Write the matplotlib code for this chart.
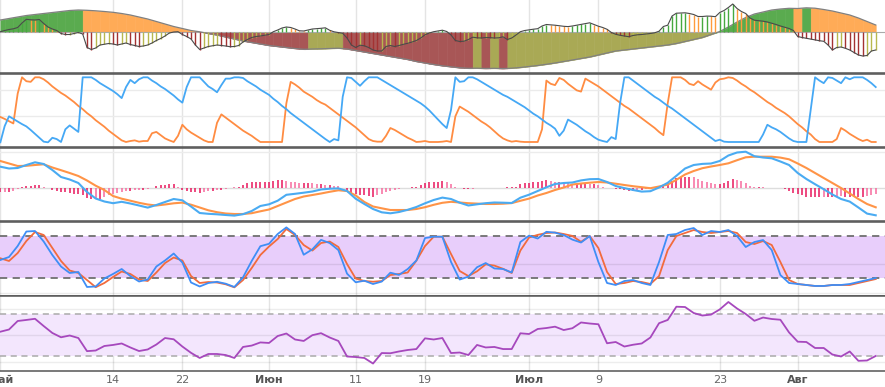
import numpy as np
import matplotlib
matplotlib.use("Agg")
import matplotlib.pyplot as plt

# ---------------- data ----------------
tick_days = [0, 13, 21, 31, 41, 49, 61, 69, 83, 92]
tick_labels = ["Май", "14", "22", "Июн", "11", "19", "Июл", "9", "23", "Авг"]
month_labels = ["Май", "Июн", "Июл", "Авг"]

# top panel: slow oscillator (daily) and fast oscillator (12h)
slow = [12, 13.5, 15, 16.5, 17.5, 18.5, 19.5, 20.5, 21.5, 22,
        21.7, 21.2, 20.5, 19.7, 18.5, 17, 15, 13, 10.5, 8,
        5.5, 3.5, 1.5, 0.2, -1.5, -3, -5, -7, -9, -10.5,
        -12, -13.5, -14.5, -15.5, -16.5, -17.3, -17.0, -16.8, -16.5, -16.2,
        -17, -18.5, -20, -21.5, -23, -24.5, -26, -27.5, -29.5, -31,
        -32.5, -33.8, -34.8, -35.8, -36.3, -36.2, -36.5, -36.3, -36.6, -36.2,
        -35.5, -34.5, -33.5, -32.3, -31, -29.5, -28, -26.5, -25, -23,
        -21, -19, -18, -17, -16, -15, -14, -13, -11.5, -9.5,
        -7.5, -5.5, -2.5, 0.5, 5, 10, 14.5, 18, 20, 22,
        23, 23.7, 23.5, 24.2, 23.8, 22.5, 21, 19, 17, 14,
        10.5, 7]
fast = [0.3, 1.5, 2.5, 3.2, 4.5, 9, 12.7, 12.2, 12, 12.5,
        8.5, 5, 3, 1.5, -1.5, -2.5, -2.5, -1.5, -0.5, -2,
        -15.5, -17.5, -16, -13, -12.3, -11.5, -12, -13, -12, -11,
        -12.5, -13.5, -14.5, -14, -13, -11, -8.5, -6.5, -4, -1,
        0, 0.3, -2.5, -4.5, -7, -13, -17.5, -16, -14.5, -13.8,
        -13, -13.5, -14, -14.7, -14.5, -13.5, -10, -7.5, -5.5, -4.5,
        -4, -3.3, -2.5, 0.3, 2, 4, 5, 4.5, 3, 1.2,
        1, 2, 3, 3.3, 3.7, 4.2, 1.7, 0.2, -0.5, -1.3,
        -6, -13, -15.5, -13.2, -13.8, -15.5, -18, -19, -19, -14.5,
        -13.5, -14.5, -13.5, -12.3, -11.3, -10, -8.5, -6, -2.8, -1,
        0.3, 1, 1.8, 0.5, -3, -8.5, -9.5, -9.2, -7.5, -5.2,
        -5.8, -6, -5.5, -5.6, -6, -5.8, -4.8, -7.5, -6, -3,
        0.3, 1.5, 2.2, 2.8, 3.3, 6, 7.5, 7.2, 6.8, 6.2,
        5.7, 5.4, 6, 6.8, 7.7, 8.5, 9.2, 7.5, 5.8, 4.5,
        2.7, -0.5, -2.3, -3.3, -4, -4.7, -3.5, -2.8, -2.5, -2,
        -1.5, -0.8, 0.8, 5.5, 6.8, 16, 18.8, 19, 19.2, 18.5,
        17.5, 15.5, 15.5, 15.9, 15.8, 15.3, 19.5, 21.5, 24.5, 28,
        23.5, 20.5, 18.5, 14, 11.8, 11.3, 10.8, 10, 8.8, 7.5,
        6, 4.8, 3.5, 1.5, -4.5, -5.5, -6.3, -7, -8, -8.7,
        -9.3, -13, -18, -15.5, -15, -16.3, -18, -20.5, -23, -24,
        -23.5, -19, -18]

# aroon (12h)
aroon_up = [0, 25, 40, 36, 32, 28, 24.5, 19, 13, 7,
            1, 0, 7, 5, 0.5, 20, 26, 21, 16, 100,
            100, 100, 96, 91, 87, 83, 79, 74, 68, 85,
            96, 91, 97, 100, 100, 95, 91, 86, 82, 77,
            72, 66, 61, 85, 100, 100, 100, 93, 86, 82,
            77, 88, 98, 98, 100, 100, 99, 94, 90, 86,
            81, 77, 73, 67, 62, 56, 51, 45, 40, 35,
            30, 25, 20, 15, 10, 5, 0.5, 5, 3, 70,
            100, 99, 93, 87, 94, 100, 100, 100, 96, 92,
            88, 84, 80, 76, 72, 68, 64, 60, 55, 49,
            42, 35, 28, 22, 50, 100, 93, 94, 100, 100,
            97, 93, 89, 85, 81, 77, 73, 70, 66, 62,
            58, 54, 49, 44, 40, 35, 30, 26, 21, 10,
            18, 35, 31, 27, 22, 17, 13, 8, 4, 2,
            0.5, 8, 5, 60, 100, 100, 95, 90, 85, 80,
            75, 70, 66, 61, 56, 52, 47, 42, 37, 32,
            27, 22, 17, 12, 7, 2, 4, 1, 0.5, 0.5,
            0.5, 0.5, 0.5, 0.5, 0.5, 0.5, 12, 27, 23, 20,
            16, 11, 6, 2, 0.5, 0.5, 0.5, 50, 100, 95,
            91, 100, 99, 95, 91, 100, 97, 100, 100, 100,
            96, 91, 85]
aroon_down = [39, 36, 32.5, 29, 75, 100, 94, 93, 100, 100,
              97, 92, 86, 81, 76, 72, 67, 62, 56, 51,
              45, 40, 34, 29, 24, 18, 13, 8, 3, 0.5,
              2, 3, 1, 2, 2, 14, 16, 11, 6, 3,
              0.5, 10, 27, 20, 15, 11, 7, 3, 0.5, 0.5,
              30, 43, 38, 33, 28, 23, 18, 14, 10, 5,
              0.5, 0.5, 0.5, 0.5, 0.5, 0.5, 60, 93, 89, 84,
              78, 74, 70, 65, 61, 58, 53, 48, 43, 38,
              33, 28, 23, 17, 11, 5, 2, 1, 1, 10,
              22, 19, 15, 11, 7, 4, 0.5, 1, 2, 0.5,
              0.5, 0.5, 1, 2, 0.5, 40, 55, 51, 47, 42,
              37, 32, 28, 23, 17, 11, 6, 3, 1, 2,
              1, 0.5, 0.5, 0.5, 0.5, 20, 95, 90, 88, 99,
              96, 90, 85, 80, 78, 98, 94, 90, 86, 81,
              76, 71, 66, 61, 56, 52, 47, 42, 37, 32,
              27, 22, 16, 11, 60, 100, 100, 100, 96, 90,
              88, 94, 89, 85, 81, 92, 97, 98, 100, 99,
              95, 90, 86, 81, 77, 72, 67, 62, 58, 53,
              49, 45, 40, 34, 28, 23, 17, 12, 5, 0.5,
              0.5, 0.5, 0.5, 5, 22, 18, 13, 9, 5, 2,
              4, 0.5, 0.5]

# macd (daily lines, 12h histogram)
macd = [21, 19.2, 19.7, 22.7, 25.4, 23.7, 17.7, 10.7, 8.2, 4.7,
        -4.3, -10.8, -13.8, -15.5, -14.1, -15.8, -17.8, -19.9, -17.3, -14.3,
        -11.3, -12.6, -18.8, -25.3, -26.1, -26.6, -27.3, -27.9, -26.5, -23.3,
        -18.3, -16.6, -13, -7.1, -6.1, -5, -3.8, -1.8, -1, -0.7,
        -3.3, -11, -16.3, -21.3, -24.6, -25.6, -24.3, -22.1, -19.3, -15.6,
        -12.3, -9.9, -11.3, -15, -17.8, -16.6, -15.5, -14.8, -15, -15.3,
        -10, -7, -3.3, 0.4, 3.7, 4.7, 5.2, 7.3, 8.5, 8.7,
        5.7, 1.7, -0.4, -2.3, -3.9, -3.5, 0.2, 4.9, 11.9, 19.2,
        22.7, 23.8, 24.2, 26.7, 32.2, 35.2, 36, 31.5, 30.2, 29.4,
        26.2, 22.7, 14.7, 8.7, 3.5, -1.5, -6.8, -11.3, -13.9, -19.8,
        -25.9, -27.6]
signal = [26.7, 24.2, 21.7, 21.9, 22.7, 23.4, 20.2, 17.5, 14.7, 11.7,
          7.2, 2, -2.3, -8.3, -11, -13, -15.1, -16.8, -17.8, -16.8,
          -15.6, -14.9, -17, -19.8, -22.6, -24.5, -25.8, -26.3, -26.3, -25.5,
          -23.6, -21.8, -18.3, -14.8, -11.3, -8.8, -7.3, -5.8, -4.1, -2.6,
          -3.3, -7.8, -14.3, -18.8, -20.6, -22.3, -22.3, -22.3, -21.3, -19.5,
          -17.1, -15.1, -14.1, -14.8, -15.5, -15.9, -16.3, -16.3, -16, -15.4,
          -13.1, -10.9, -7.8, -5.3, -2.3, 0.2, 3.2, 4.2, 5, 5.7,
          5.2, 4, 2.7, 1.5, 0.5, -0.5, 1.2, 3.1, 7.9, 13.2,
          16.7, 19.5, 21.2, 22.7, 24.4, 27.5, 30.4, 31, 31, 31,
          30.1, 28.4, 24.2, 19.7, 14.7, 9.7, 4.7, -0.3, -5.8, -11.3,
          -16.3, -19.6]
hist = [-4.5, -4, -4, -3.3, -1, 1, 1.5, 2, 2.7, 2.7,
        1, -0.5, -2.3, -3.3, -4, -4.7, -5.7, -6.7, -6.7, -7.3,
        -10, -11.3, -10.7, -11.3, -9.7, -7.3, -6.7, -5.7, -4, -3.3,
        -3.3, -2.7, -2.3, -2.3, -1.7, -0.7, 1.5, 2.5, 3, 3.3,
        3.3, 1, -2.3, -3.3, -4, -4.7, -5, -4, -3.3, -3.3,
        -2.3, -2.3, -1.3, -0.7, 0.3, 1, 2.7, 4.3, 5.3, 5.3,
        6, 6, 6, 6.7, 7.7, 7.7, 6.7, 6, 5.5, 4.3,
        4.3, 4.5, 4.3, 3.3, 3.3, 2.7, 2.7, 2, 1.3, 0,
        -3, -5, -6.3, -7, -7.7, -8.3, -9, -7.7, -6, -4.7,
        -3.3, -2, -1.3, -0.7, 0, 0.7, 1, 3, 4.3, 5.3,
        5.3, 5.3, 6.7, 5.3, 3.3, 1, -0.7, -1.3, -1.7, -1.3,
        -0.7, 0, 0, -0.5, -0.7, -0.7, 0, 0.3, 0.5, 1,
        3.3, 4.3, 5, 5.3, 5.3, 6.7, 7.7, 6.7, 5.3, 6,
        5.3, 4.3, 3.3, 3.3, 3.3, 4.3, 3.3, 3.3, 2.7, 1,
        -0.5, -0.7, -1.3, -1.7, -2.3, -3, -3, -2.3, -2.3, -1.7,
        -1.3, -0.7, 1, 2.3, 4.3, 6.7, 9.3, 10.7, 11, 11,
        10.3, 8.7, 6.7, 5.3, 4.3, 3.3, 3.3, 4.3, 6.7, 8.3,
        7.7, 6.7, 4.3, 2, 0.7, 0.7, 0.3, 0, 0, -0.7,
        -0.7, -1.7, -3.3, -5, -6.3, -7.3, -9, -9.7, -9.7, -9.7,
        -9, -9.7, -9.7, -9.3, -8.3, -9, -9, -9, -9, -9,
        -8.3, -7.3, -6.3]

# stochastic (daily)
stoch_k = [45.8, 50, 65.5, 85.9, 86.6, 71.8, 52.8, 36.6, 27.5, 28.9,
           7.8, 8.5, 19.7, 26.1, 33.1, 23.2, 15.5, 18.3, 36.6, 45.1,
           54.9, 42.2, 14.1, 8.5, 13.4, 15.1, 12.4, 7.8, 21.4, 44.4,
           65.2, 68.6, 82.4, 91.7, 82.4, 53.2, 60.8, 74.1, 69.7, 59.8,
           26.6, 14.4, 16.6, 12, 15.4, 27.9, 24.8, 33.1, 45.1, 76.7,
           78.6, 78.6, 43, 18.3, 22.3, 35.6, 41.5, 33.9, 33.1, 28.2,
           71.1, 80.1, 76, 85.5, 84.3, 81, 74.5, 70.4, 79.6, 43,
           13.4, 10.6, 16.2, 17.6, 13.4, 10.6, 43, 81, 82.4, 88,
           90.8, 81, 86.6, 85.2, 88, 79.6, 64.1, 71.1, 73.9, 59.8,
           24.6, 13.4, 12, 10.6, 9.2, 9.2, 10.6, 10.6, 12, 14.8,
           17.6, 20.4]
stoch_d = [48.2, 44.4, 55.6, 72.5, 85.2, 81, 62.7, 44.4, 31, 27.5,
           17.6, 7.5, 13.4, 21.8, 29.6, 26.1, 18.3, 16.2, 28.2, 41.5,
           49.3, 45.1, 23.2, 13.4, 14.8, 14.1, 11.6, 7.3, 17.6, 34.5,
           52.8, 64.8, 75.3, 89.4, 81, 66.9, 59.1, 69.7, 71.8, 64.1,
           40.1, 19.7, 16.2, 15.2, 16.2, 24.6, 26.1, 28.2, 44.8, 65.5,
           78.6, 78.6, 54.2, 30.3, 23.2, 29.9, 39.7, 37.9, 33.4, 27.5,
           59.1, 77.4, 81.2, 83.8, 84.5, 82.4, 79.7, 71.4, 79.6, 62.7,
           28.9, 12, 13.4, 16.2, 14.8, 12, 23.2, 59.8, 79.6, 83.8,
           88, 85.2, 83.8, 85.2, 86.6, 83.8, 71.1, 68.3, 72.5, 66.9,
           43, 17.6, 12, 10.6, 9.2, 9.2, 10.6, 10.6, 10.6, 13.4,
           16.2, 19]

# rsi (daily)
rsi = [53.4, 55.5, 63.6, 64.6, 65.7, 58.8, 52.2, 48.1, 49.8, 47.4,
       34.9, 35.5, 39.8, 40.8, 42.2, 38.4, 35, 36.5, 41.2, 47.4,
       46.2, 39.3, 33.3, 28.4, 32.2, 32.2, 31.2, 28.4, 38.9, 40.2,
       43.2, 42.7, 49.3, 51.7, 46, 44.6, 50.1, 52, 47.9, 44.6,
       29.8, 29.3, 28.4, 23.1, 33.1, 32.9, 34.6, 36, 36.9, 47.1,
       46, 47.4, 33.1, 33.6, 31.2, 40.8, 38.4, 38.9, 36.9, 36.9,
       51.9, 51.2, 56, 56.9, 58.2, 55, 56.7, 62.2, 61.2, 60.5,
       42.4, 43.6, 39.3, 41, 42.2, 47.9, 61.5, 64.6, 77.2, 76.9,
       71.2, 68.8, 69.7, 74.6, 81.7, 75.5, 70.3, 63.8, 66.9, 65.5,
       64.8, 52.7, 43.9, 43.6, 37.9, 37.9, 31.7, 29.8, 34.6, 25.7,
       26, 30.3]

# ---------------- figure ----------------
W, H = 885, 387
fig = plt.figure(figsize=(W / 100, H / 100), dpi=100)
XMIN, XMAX = -0.04, 102.07


def panel(top, bottom, top_spine=True):
    ax = fig.add_axes([0, 1 - bottom / H, 1, (bottom - top) / H])
    ax.set_xlim(XMIN, XMAX)
    ax.set_xticks([])
    ax.set_yticks([])
    for s in ["left", "right"]:
        ax.spines[s].set_visible(False)
    for s in ["top", "bottom"]:
        ax.spines[s].set_color("#555555")
        ax.spines[s].set_linewidth(1.1)
    ax.spines["top"].set_visible(top_spine)
    for d in tick_days:
        ax.axvline(d, color="#e4e4e4", lw=1, zorder=0)
    return ax


def trend_colors(v, up_pos, dn_pos, dn_neg, up_neg):
    v = np.asarray(v, dtype=float)
    dv = np.diff(v, prepend=v[0])
    dv[0] = v[1] - v[0]
    out = []
    for val, d in zip(v, dv):
        if val >= 0:
            out.append(up_pos if d >= 0 else dn_pos)
        else:
            out.append(dn_neg if d < 0 else up_neg)
    return out


t_day = np.arange(len(slow))
t_half = np.arange(len(fast)) * 0.5

# ---- panel 1 ----
ax1 = panel(0, 72.5, top_spine=False)
ax1.set_ylim(-40.5, 32)
slow_a = np.array(slow, dtype=float)
area_cols = trend_colors(slow_a, "#5aab4f", "#ffab57", "#a85656", "#a9a955")
n = len(slow_a)
for i in range(n):
    lo, hi = max(i - 0.5, 0), min(i + 0.5, n - 1)
    xs = np.linspace(lo, hi, 6)
    ys = np.interp(xs, t_day, slow_a)
    ax1.fill_between(xs, 0, ys, facecolor=area_cols[i], edgecolor=area_cols[i],
                     linewidth=0.4, zorder=1)
ax1.plot(t_day, slow_a, color="#808080", lw=0.9, zorder=2)
ax1.axhline(0, color="#aaaaaa", lw=0.8, zorder=1.5)
bar_cols = trend_colors(fast, "#47a93f", "#ff9c3c", "#a33232", "#b8b84e")
ax1.vlines(t_half, 0, fast, colors=bar_cols, lw=1.0, zorder=3)
ax1.plot(t_half, fast, color="#4a4a4a", lw=0.8, zorder=4)

# ---- panel 2: aroon ----
ax2 = panel(74, 147)
ax2.set_ylim(-7.2, 105.1)
for g in [40, 80]:
    ax2.axhline(g, color="#ebebeb", lw=1, zorder=0)
ax2.plot(t_half, aroon_down, color="#ff8c42", lw=1.3, zorder=3)
ax2.plot(t_half, aroon_up, color="#45a8f5", lw=1.3, zorder=3)

# ---- panel 3: macd ----
ax3 = panel(148, 221.3)
ax3.set_ylim(-33.6, 39.7)
ax3.axhline(0, color="#dddddd", lw=1, zorder=0)
ax3.axhline(36, color="#ececec", lw=1, zorder=0)
h = np.array(hist, dtype=float)
dh = np.abs(h) - np.abs(np.concatenate([[h[0]], h[:-1]]))
hist_cols = ["#e8175d" if d >= 0 else "#f76b9e" for d in dh]
ax3.vlines(t_half, 0, h, colors=hist_cols, lw=1.1, zorder=2)
ax3.plot(t_day, signal, color="#ff9447", lw=1.5, zorder=3)
ax3.plot(t_day, macd, color="#4aabf2", lw=1.5, zorder=4)

# ---- panel 4: stochastic ----
ax4 = panel(222, 295.5)
ax4.set_ylim(-4.2, 99.3)
ax4.axhspan(20, 80, color="#e8cefb", lw=0, zorder=0.5)
for g in [0, 40]:
    ax4.axhline(g, color=(0, 0, 0, 0.08), lw=1, zorder=1)
for g in [20, 80]:
    ax4.axhline(g, color="#707070", lw=1.3, ls=(0, (4, 3)), zorder=1)
ax4.plot(t_day, stoch_d, color="#f26b3d", lw=1.3, zorder=3)
ax4.plot(t_day, stoch_k, color="#3f8ef6", lw=1.3, zorder=4)

# ---- panel 5: rsi ----
ax5 = panel(296, 371)
ax5.set_ylim(16.0, 87.4)
ax5.axhspan(30, 70, color="#f3e6fd", lw=0, zorder=0.5)
for g in [25, 50, 75]:
    ax5.axhline(g, color=(0, 0, 0, 0.07), lw=1, zorder=1)
for g in [30, 70]:
    ax5.axhline(g, color="#aaaaaa", lw=1.1, ls=(0, (4, 3)), zorder=1)
ax5.plot(t_day, rsi, color="#a648bd", lw=1.3, zorder=3)

ax5.set_xticks(tick_days)
ax5.set_xticklabels(tick_labels, fontsize=8, color="#666666")
ax5.tick_params(axis="x", length=0, pad=3)
for lab in ax5.get_xticklabels():
    if lab.get_text() in month_labels:
        lab.set_fontweight("bold")
        lab.set_color("#555555")

fig.savefig("out.png", dpi=100)
